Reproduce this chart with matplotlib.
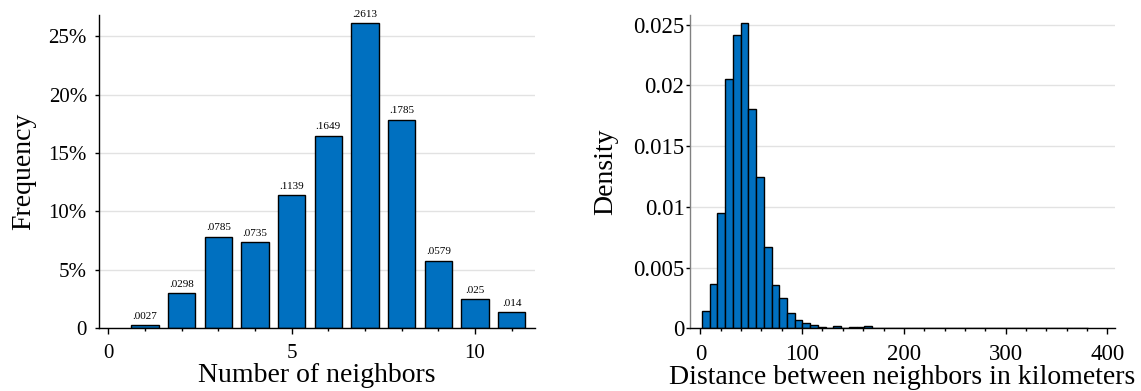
import matplotlib
matplotlib.use("Agg")
import matplotlib.pyplot as plt
import numpy as np
from matplotlib.ticker import FixedLocator, MultipleLocator

# ---------------- data ----------------
neighbors = [1, 2, 3, 4, 5, 6, 7, 8, 9, 10, 11]
frequency = [0.0027, 0.0298, 0.0785, 0.0735, 0.1139, 0.1649, 0.2613, 0.1785, 0.0579, 0.025, 0.014]
freq_labels = [".0027", ".0298", ".0785", ".0735", ".1139", ".1649", ".2613", ".1785", ".0579", ".025", ".014"]
left_yticks = [0, 0.05, 0.10, 0.15, 0.20, 0.25]
left_yticklabels = ["0", "5%", "10%", "15%", "20%", "25%"]
left_xticks = [0, 5, 10]

dist_bin_start = 1.5
dist_bin_width = 7.6
dist_density = [0.00143, 0.00363, 0.00948, 0.02052, 0.02415, 0.02514, 0.01805, 0.0125,
                0.0067, 0.00357, 0.00247, 0.00124, 0.00069, 0.00041, 0.00027, 0.0001,
                0.00005, 0.0002, 0.00005, 0.0001, 0.00013, 0.00017, 0.00005, 0.00003,
                0.00003, 0.00003, 0.0, 0.00003, 0.0, 0.00003, 0.00003, 0.0,
                0.0, 0.0, 0.0, 0.00003, 0.00003, 0.0, 0.0, 0.0,
                0.00003, 0.0, 0.0, 0.00003, 0.0, 0.0, 0.0, 0.0, 0.0, 0.0]
right_yticks = [0, 0.005, 0.01, 0.015, 0.02, 0.025]
right_yticklabels = ["0", "0.005", "0.01", "0.015", "0.02", "0.025"]
right_xticks = [0, 100, 200, 300, 400]

# ---------------- style ----------------
plt.rcParams['font.family'] = ['Liberation Serif', 'DejaVu Serif']
BLUE = "#0070C0"
GRID = "#e2e2e2"

fig = plt.figure(figsize=(11.41, 3.91), dpi=100)
ax1 = fig.add_axes([0.0870, 0.1604, 0.4689 - 0.0870, 0.9616 - 0.1604])
ax2 = fig.add_axes([0.6047, 0.1604, 0.9772 - 0.6047, 0.9616 - 0.1604])

def style(ax, left_color, tick_size, ypad):
    for s in ("top", "right"):
        ax.spines[s].set_visible(False)
    ax.spines["left"].set_color(left_color)
    ax.spines["left"].set_linewidth(1.0)
    ax.spines["bottom"].set_color("black")
    ax.spines["bottom"].set_linewidth(1.0)
    ax.set_axisbelow(True)
    ax.yaxis.grid(True, color=GRID, linewidth=1.0)
    ax.tick_params(axis="both", which="major", labelsize=tick_size, colors="black")
    ax.tick_params(axis="x", which="major", length=4, width=1, pad=7.5)
    ax.tick_params(axis="x", which="minor", length=2.4, width=1)
    ax.tick_params(axis="y", which="major", length=3, width=1, pad=ypad)

# ---- left chart ----
style(ax1, "black", 15, 5.9)
bars = ax1.bar(neighbors, frequency, width=0.75, color=BLUE, edgecolor="black", linewidth=1.0)
for b, lab in zip(bars, freq_labels):
    ax1.annotate(lab, (b.get_x() + b.get_width() / 2, b.get_height()),
                 xytext=(0, 3), textcoords="offset points",
                 ha="center", va="bottom", fontsize=8)
ax1.set_xlim(-0.25, 11.64)
ax1.set_ylim(0, 0.268)
ax1.yaxis.set_major_locator(FixedLocator(left_yticks))
ax1.set_yticklabels(left_yticklabels)
ax1.xaxis.set_major_locator(FixedLocator(left_xticks))
ax1.xaxis.set_minor_locator(MultipleLocator(1))
ax1.set_xlabel("Number of neighbors", fontsize=20, labelpad=0)
ax1.set_ylabel("Frequency", fontsize=20, labelpad=9)

# ---- right chart ----
style(ax2, "#808080", 16.5, 1.0)
edges = dist_bin_start + dist_bin_width * np.arange(len(dist_density))
ax2.bar(edges, dist_density, width=dist_bin_width, align="edge",
        color=BLUE, edgecolor="black", linewidth=1.0)
ax2.set_xlim(-10.3, 407.6)
ax2.set_ylim(0, 0.0258)
ax2.yaxis.set_major_locator(FixedLocator(right_yticks))
ax2.set_yticklabels(right_yticklabels)
ax2.xaxis.set_major_locator(FixedLocator(right_xticks))
ax2.xaxis.set_minor_locator(MultipleLocator(20))
ax2.set_xlabel("Distance between neighbors in kilometers", fontsize=20, labelpad=0)
ax2.set_ylabel("Density", fontsize=20, labelpad=11)

fig.savefig("out.png", dpi=100)
